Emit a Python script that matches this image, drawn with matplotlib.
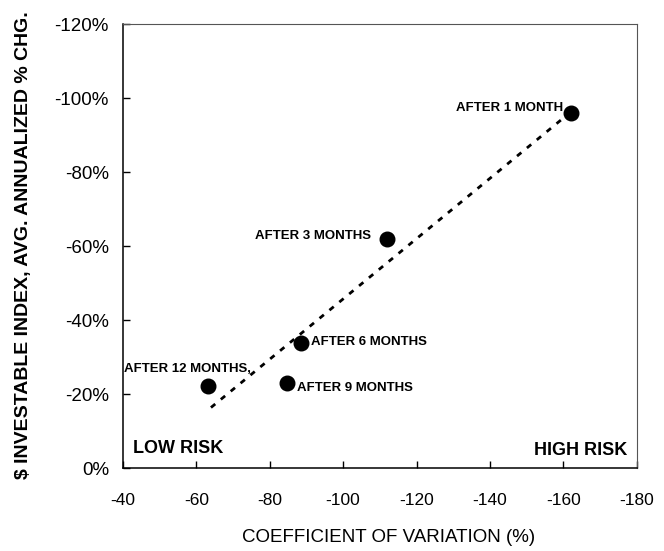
import numpy as np
import matplotlib
matplotlib.use("Agg")
import matplotlib.pyplot as plt
from matplotlib.ticker import FuncFormatter

plt.rcParams['font.family'] = ['Liberation Sans', 'DejaVu Sans']

# Risk / return observations for each holding period
labels = ["AFTER 1 MONTH", "AFTER 3 MONTHS", "AFTER 6 MONTHS",
          "AFTER 9 MONTHS", "AFTER 12 MONTHS,"]
coef_var = [-162.0, -112.0, -88.4, -84.6, -63.1]
avg_change = [-96.0, -62.0, -33.7, -22.9, -22.3]

x_ticks = [-40, -60, -80, -100, -120, -140, -160, -180]
y_ticks = [0, -20, -40, -60, -80, -100, -120]

# label placement (offset in points, horizontal alignment)
label_offsets = [(-5.8, 3.6, 'right'), (-11.5, 2.2, 'right'), (7.9, 0.7, 'left'),
                 (7.2, -3.6, 'left'), (-14.4, 12.2, 'center')]

fig = plt.figure(figsize=(6.64, 5.51), dpi=100)
ax = fig.add_axes([0.185, 0.1506, 0.774, 0.805])

# least-squares trend line over the observed range
slope, intercept = np.polyfit(coef_var, avg_change, 1)
xs = np.array([min(coef_var), max(coef_var)])
ax.plot(xs, slope * xs + intercept, color='black', lw=2.0,
        linestyle=(0, (2.0, 2.6)), zorder=2)

ax.scatter(coef_var, avg_change, s=110, color='black', zorder=3)

for x, y, text, (dx, dy, ha) in zip(coef_var, avg_change, labels, label_offsets):
    ax.annotate(text, (x, y), xytext=(dx, dy), textcoords='offset points',
                ha=ha, va='center', fontsize=9.5, fontweight='bold')

ax.set_xlim(-40, -180)
ax.set_ylim(0, -120)
ax.set_xticks(x_ticks)
ax.set_yticks(y_ticks)
ax.xaxis.set_major_formatter(FuncFormatter(lambda v, p: f"{v:.0f}"))
ax.yaxis.set_major_formatter(FuncFormatter(lambda v, p: f"{v:.0f}%"))
ax.tick_params(direction='in', length=5, width=1)
ax.tick_params(axis='y', labelsize=13.5, pad=10)
ax.tick_params(axis='x', labelsize=12.5, pad=18)

for side in ['left', 'bottom']:
    ax.spines[side].set_linewidth(1.1)
for side in ['top', 'right']:
    ax.spines[side].set_linewidth(0.8)
    ax.spines[side].set_color('#555555')

ax.text(0.02, 0.043, "LOW RISK", transform=ax.transAxes, fontsize=13,
        fontweight='bold', ha='left', va='center')
ax.text(0.982, 0.04, "HIGH RISK", transform=ax.transAxes, fontsize=13,
        fontweight='bold', ha='right', va='center')

fig.text(389 / 664, 1 - 538 / 551, "COEFFICIENT OF VARIATION (%)",
         fontsize=13.5, ha='center', va='center')
fig.text(24 / 664, 1 - 245 / 551, "$ INVESTABLE INDEX, AVG. ANNUALIZED % CHG.",
         fontsize=14, fontweight='bold', rotation=90, ha='center', va='center')

fig.savefig("out.png", dpi=100)
